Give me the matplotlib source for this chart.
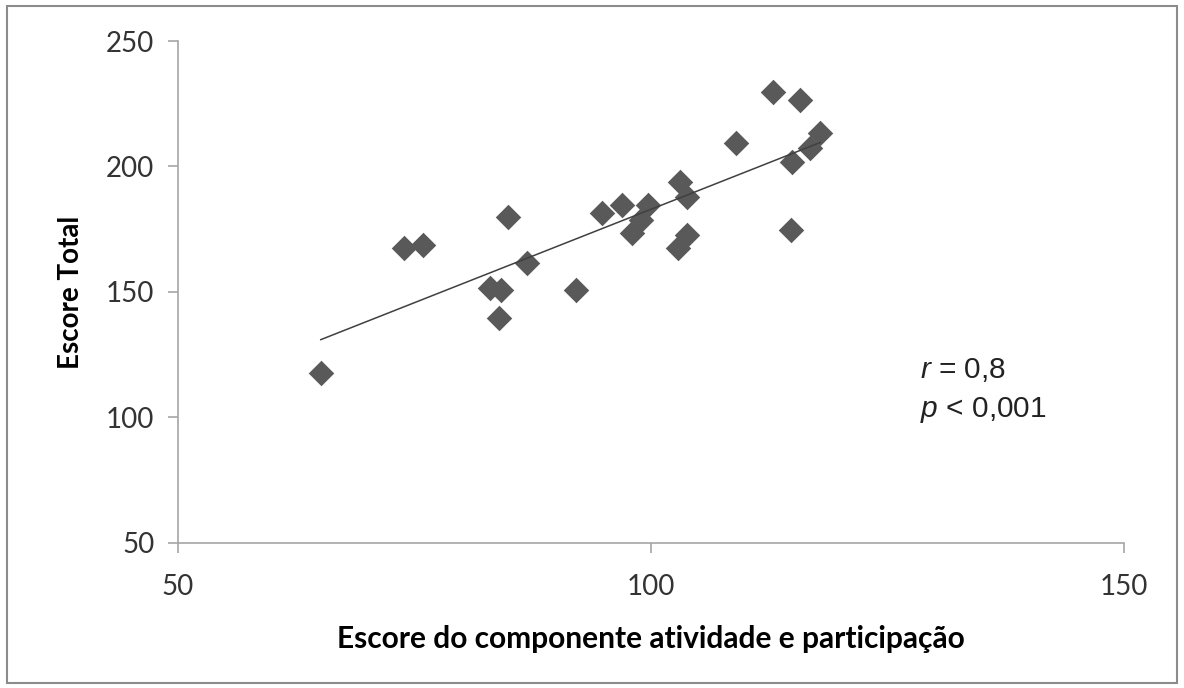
import numpy as np
import matplotlib.pyplot as plt
from matplotlib.patches import Rectangle

plt.rcParams['mathtext.fontset'] = 'custom'
plt.rcParams['mathtext.it'] = 'Liberation Sans:italic'
plt.rcParams['mathtext.rm'] = 'Liberation Sans'

# Escore do componente atividade e participação (x) vs Escore Total (y)
atividade = [65.1, 73.9, 75.9, 83.0, 84.2, 83.9, 84.9, 86.9, 92.1, 94.8,
             96.9, 99.7, 98.0, 98.9, 103.1, 103.8, 103.8, 102.9, 109.0, 112.9,
             115.8, 117.9, 116.8, 114.9, 114.8]
escore_total = [117.6, 167.4, 168.6, 151.5, 150.8, 139.5, 180.0, 161.4, 150.8, 181.4,
                184.7, 184.7, 173.4, 178.7, 193.9, 188.0, 172.7, 167.4, 209.5, 229.6,
                226.5, 213.2, 207.3, 201.9, 174.7]

x_ticks = [50, 100, 150]
y_ticks = [50, 100, 150, 200, 250]

fig = plt.figure(figsize=(11.84, 6.88), dpi=100)
ax = fig.add_axes([0.1503, 0.2108, 0.7990, 0.7296])

x = np.array(atividade)
y = np.array(escore_total)
ax.scatter(x, y, marker='D', s=13 ** 2, color='#595959', linewidths=0, zorder=2)

# linha de tendência linear
coef = np.polyfit(x, y, 1)
xl = np.array([x.min(), x.max()])
ax.plot(xl, np.polyval(coef, xl), color='#404040', lw=1.1, zorder=3)

ax.set_xlim(50, 150)
ax.set_ylim(50, 250)
ax.set_xticks(x_ticks)
ax.set_yticks(y_ticks)

tick_font = ['Lato', 'DejaVu Sans']
for lab in ax.get_xticklabels() + ax.get_yticklabels():
    lab.set_family(tick_font)
    lab.set_fontsize(20)
    lab.set_color('#333333')

for side in ['top', 'right']:
    ax.spines[side].set_visible(False)
for side in ['left', 'bottom']:
    ax.spines[side].set_color('#a6a6a6')
    ax.spines[side].set_linewidth(1.2)
ax.tick_params(axis='both', direction='out', length=7, width=1.2, color='#a6a6a6')
ax.tick_params(axis='y', pad=10)
ax.tick_params(axis='x', pad=15)

ax.set_xlabel('Escore do componente atividade e participação', fontsize=21.5,
              fontweight='bold', family=tick_font, labelpad=18)
ax.set_ylabel('Escore Total', fontsize=20, fontweight='bold', family=tick_font, labelpad=16)

stat_font = ['Liberation Sans', 'DejaVu Sans']
ax.text(0.777, 0.462, r'$r$ = 0,8', transform=fig.transFigure, fontsize=21.5,
        family=stat_font, color='#222222', va='center')
ax.text(0.777, 0.404, r'$p$ < 0,001', transform=fig.transFigure, fontsize=21.5,
        family=stat_font, color='#222222', va='center')

fig.patches.append(Rectangle((0.006, 0.007), 0.988, 0.985, transform=fig.transFigure,
                             fill=False, edgecolor='#8c8c8c', linewidth=1.5))

fig.savefig('out.png', dpi=100)
